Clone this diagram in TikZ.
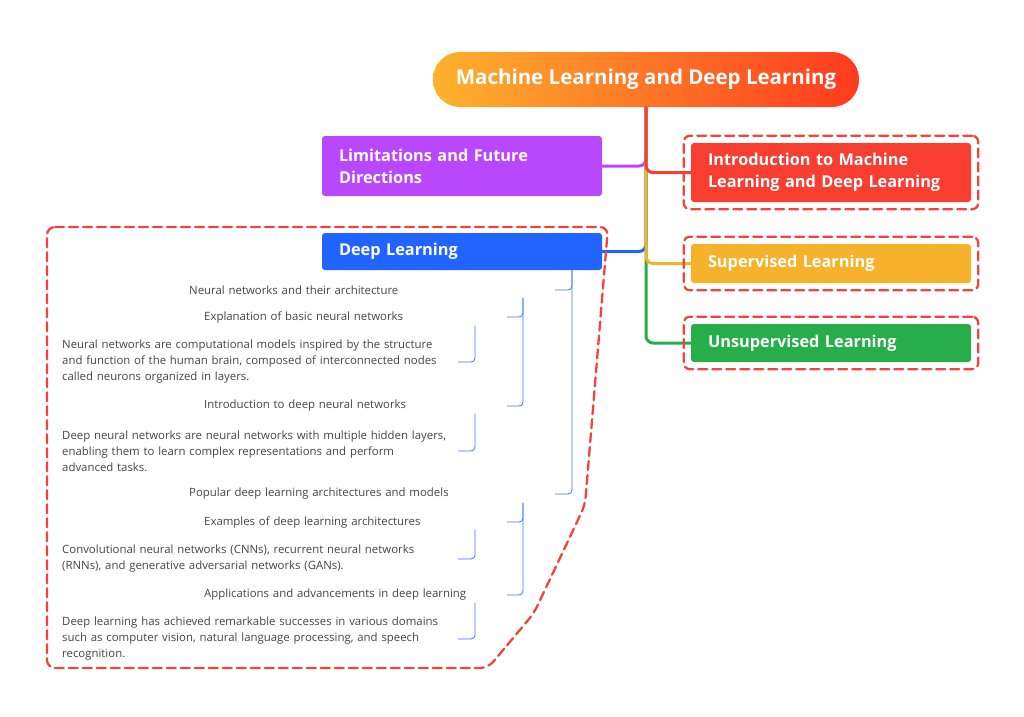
\documentclass[tikz,border=0pt]{standalone}
\usepackage{fontspec}
\setmainfont{Open Sans}
\usetikzlibrary{fit}
\definecolor{titleL}{HTML}{FDB22D}
\definecolor{titleR}{HTML}{FF3A1F}
\definecolor{introC}{HTML}{F73E31}
\definecolor{supC}{HTML}{F6B22B}
\definecolor{unsupC}{HTML}{27AE4B}
\definecolor{limC}{HTML}{B847FE}
\definecolor{deepC}{HTML}{2264FF}
\definecolor{dashC}{HTML}{F2443B}
\definecolor{twigC}{HTML}{3F70FF}
\definecolor{txtC}{HTML}{444444}
\begin{document}
\begin{tikzpicture}[x=1pt,y=-1pt,line join=round,line cap=round,
	topic/.style={minimum width=280pt,text width=246pt,inner xsep=17pt,inner ysep=0pt,align=left,rounded corners=3pt,text=white,font=\bfseries\fontsize{16.3}{22}\selectfont},
	branch/.style={line width=3pt,rounded corners=7pt,draw=#1},
	dashbox/.style={draw=dashC,line width=2.3pt,dash pattern=on 9pt off 5pt,rounded corners=6pt},
	twig/.style={draw=twigC,line width=0.8pt,rounded corners=4pt},
	sub/.style={anchor=west,inner sep=0pt,text width=#1,align=left,text=txtC,font=\fontsize{11.4}{16}\selectfont}]
	\useasboundingbox (0,0) rectangle (1024,716);
	% central topic and main branches
	\node[rounded corners=27pt,minimum width=426pt,minimum height=55pt,left color=titleL,right color=titleR,text=white,font=\bfseries\fontsize{20.5}{24}\selectfont] (title) at (646,79.5) {Machine Learning and Deep Learning};
	\node[topic,fill=introC,minimum height=59pt] (intro) at (831,172.5) {Introduction to Machine\\Learning and Deep Learning};
	\node[topic,fill=supC,minimum height=39pt] (sup) at (831,263.5) {Supervised Learning};
	\node[topic,fill=unsupC,minimum height=38pt] (unsup) at (831,343) {Unsupervised Learning};
	\node[topic,fill=limC,minimum height=60pt] (lim) at (462,166) {Limitations and Future\\Directions};
	\node[topic,fill=deepC,minimum height=37pt] (deep) at (462,251.5) {Deep Learning};
	\draw[branch=limC] (title.south) |- (lim.east);
	\draw[branch=deepC] (title.south) |- (deep.east);
	\draw[branch=unsupC] (title.south) |- (unsup.west);
	\draw[branch=supC] (title.south) |- (sup.west);
	\draw[branch=introC] (title.south) |- (intro.west);
	% dashed frames
	\node[dashbox,fit=(intro),inner sep=7pt] (introframe) {};
	\node[dashbox,fit=(sup),inner sep=7pt] (supframe) {};
	\node[dashbox,fit=(unsup),inner sep=7pt] (unsupframe) {};
	\draw[dashbox,rounded corners=8pt] (47,227) -- (608,227) -- (585,505) -- (534,613) -- (488,668) -- (47,668) -- cycle;
	% deep learning subtopics
	\node[sub=366pt] (nn) at (189,290) {Neural networks and their architecture};
	\node[sub=303pt] (expl) at (204,317) {Explanation of basic neural networks};
	\node[sub=396pt] (nndef) at (62,362) {Neural networks are computational models inspired by the structure\\and function of the human brain, composed of interconnected nodes\\called neurons organized in layers.};
	\node[sub=303pt] (dnn) at (204,406) {Introduction to deep neural networks};
	\node[sub=396pt] (dnndef) at (62,451) {Deep neural networks are neural networks with multiple hidden layers,\\enabling them to learn complex representations and perform\\advanced tasks.};
	\node[sub=366pt] (pop) at (189,494) {Popular deep learning architectures and models};
	\node[sub=303pt] (exa) at (204,522) {Examples of deep learning architectures};
	\node[sub=396pt] (exadef) at (62,559) {Convolutional neural networks (CNNs), recurrent neural networks\\(RNNs), and generative adversarial networks (GANs).};
	\node[sub=303pt] (app) at (204,595) {Applications and advancements in deep learning};
	\node[sub=396pt] (appdef) at (62,639) {Deep learning has achieved remarkable successes in various domains\\such as computer vision, natural language processing, and speech\\recognition.};
	\coordinate (b1) at (572,269);
	\coordinate (b2) at (523,298);
	\coordinate (b3) at (523,503);
	\coordinate (c1) at (475,326);
	\coordinate (c2) at (475,414);
	\coordinate (c3) at (475,530);
	\coordinate (c4) at (475,603);
	\draw[twig] (b1) |- (nn.east);
	\draw[twig] (b1) |- (pop.east);
	\draw[twig] (b2) |- (expl.east);
	\draw[twig] (b2) |- (dnn.east);
	\draw[twig] (b3) |- (exa.east);
	\draw[twig] (b3) |- (app.east);
	\draw[twig] (c1) |- (nndef.east);
	\draw[twig] (c2) |- (dnndef.east);
	\draw[twig] (c3) |- (exadef.east);
	\draw[twig] (c4) |- (appdef.east);
\end{tikzpicture}
\end{document}
